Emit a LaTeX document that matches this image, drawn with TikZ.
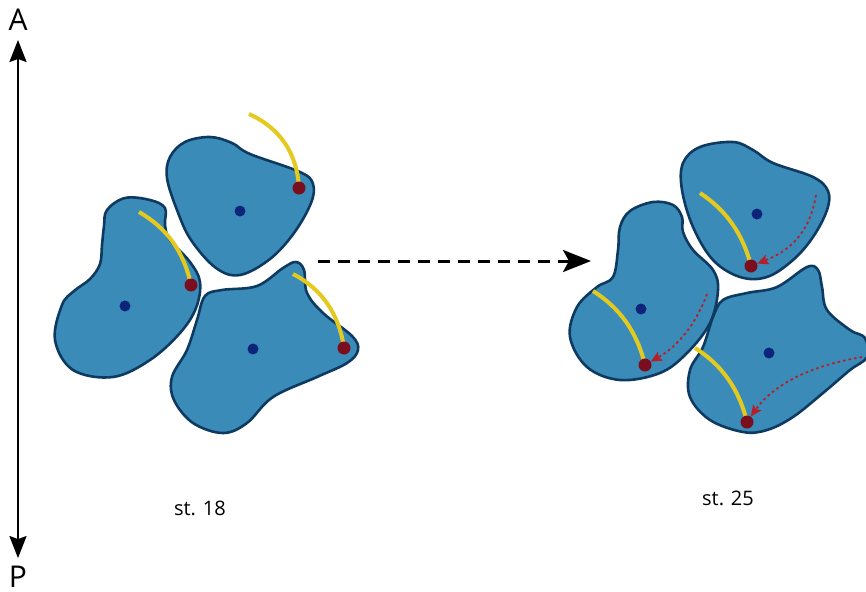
\documentclass[tikz,border=0pt]{standalone}
\usepackage{fontspec}
\setmainfont{Open Sans}
\usetikzlibrary{arrows.meta}
\definecolor{CellBlue}{RGB}{58,139,184}
\definecolor{CellEdge}{RGB}{14,58,98}
\definecolor{NucBlue}{RGB}{12,36,122}
\definecolor{BodyRed}{RGB}{122,14,30}
\definecolor{CiliaYellow}{RGB}{228,202,30}
\definecolor{PathRed}{RGB}{180,32,42}
\tikzset{
  cell/.style={draw=CellEdge,fill=CellBlue,line width=2.6pt,line join=round},
  nuc/.style={circle,fill=NucBlue,inner sep=0pt,minimum size=11pt},
  bb/.style={circle,fill=BodyRed,inner sep=0pt,minimum size=13pt},
  cilium/.style={draw=CiliaYellow,line width=4pt},
  drift/.style={draw=PathRed,line width=1.8pt,dash pattern=on 2.6pt off 3pt,
    -{Stealth[length=11pt,width=10pt,inset=2pt]}},
  axislab/.style={inner sep=0pt,font=\fontsize{30}{36}\selectfont},
  stage/.style={font=\fontsize{20}{24}\selectfont},
}

\begin{document}
\begin{tikzpicture}[x=1pt,y=-1pt]
\useasboundingbox (0,0) rectangle (866,591);
% body axis
\node[axislab] (ant) at (18,20) {A};
\node[axislab] (post) at (18,577) {P};
\draw[line width=2.4pt,{Stealth[length=22pt,width=17pt,inset=3pt]}-{Stealth[length=22pt,width=17pt,inset=3pt]},shorten <=9pt,shorten >=8pt] (ant.south) -- (post.north);

% early cells
\draw[cell] plot[smooth cycle,tension=0.6] coordinates {(170,157) (185,142) (210,137) (232,143) (250,154) (300,172) (313,184) (311,203) (294,233) (270,259) (240,275) (216,268) (191,240) (177,210) (167,178)};
\draw[cell] plot[smooth cycle,tension=0.6] coordinates {(107,210) (125,198) (150,200) (165,208) (165,225) (170,240) (190,262) (200,282) (196,308) (180,333) (150,360) (113,377) (73,370) (55,340) (62,305) (74,291) (90,279) (100,264) (102,245) (104,226)};
\draw[cell] plot[smooth cycle,tension=0.6] coordinates {(205,296) (222,290) (257,286) (283,268) (296,262) (304,270) (307,293) (323,313) (352,336) (358,350) (347,363) (317,377) (273,397) (247,423) (223,433) (193,423) (174,400) (172,377) (187,350) (197,320)};

% late cells
\draw[cell] plot[smooth cycle,tension=0.6] coordinates {(683,163) (700,147) (733,142) (753,150) (773,163) (813,177) (828,191) (827,210) (813,237) (793,260) (767,277) (740,277) (713,260) (693,227) (682,190)};
\draw[cell] plot[smooth cycle,tension=0.6] coordinates {(620,227) (630,211) (653,202) (673,205) (682,217) (683,232) (693,250) (713,270) (718,290) (710,323) (687,353) (660,373) (620,380) (587,367) (570,337) (577,307) (597,287) (613,277) (618,250)};
\draw[cell] plot[smooth cycle,tension=0.6] coordinates {(723,300) (747,293) (777,287) (807,267) (818,270) (822,287) (827,310) (850,330) (865,338) (867,357) (850,370) (823,393) (793,417) (767,430) (743,432) (710,420) (690,397) (690,370) (703,347) (713,317)};

% nuclei
\node[nuc] (nuA) at (240,211) {};
\node[nuc] (nuB) at (125,306) {};
\node[nuc] (nuC) at (253,349) {};
\node[nuc] (nuD) at (757,214) {};
\node[nuc] (nuE) at (641,309) {};
\node[nuc] (nuF) at (769,353) {};

% basal bodies and cilia tips
\coordinate (bbA) at (299,188);
\coordinate (bbB) at (191,285);
\coordinate (bbC) at (344,348);
\coordinate (bbD) at (751,266);
\coordinate (bbE) at (645,365);
\coordinate (bbF) at (747,422);
\coordinate (tipA) at (249,114);
\coordinate (tipB) at (139,212);
\coordinate (tipC) at (293,274);
\coordinate (tipD) at (700,193);
\coordinate (tipE) at (593,291);
\coordinate (tipF) at (695,348);

\draw[cilium] (tipA) .. controls (280,128) and (297,153) .. (bbA);
\draw[cilium] (tipB) .. controls (167,228) and (184,252) .. (bbB);
\draw[cilium] (tipC) .. controls (322,289) and (339,314) .. (bbC);
\draw[cilium] (tipD) .. controls (726,210) and (743,234) .. (bbD);
\draw[cilium] (tipE) .. controls (620,308) and (637,332) .. (bbE);
\draw[cilium] (tipF) .. controls (722,365) and (739,389) .. (bbF);

\node[bb] (b1) at (bbA) {};
\node[bb] (b2) at (bbB) {};
\node[bb] (b3) at (bbC) {};
\node[bb] (b4) at (bbD) {};
\node[bb] (b5) at (bbE) {};
\node[bb] (b6) at (bbF) {};

% posterior shift of the basal bodies
\coordinate (fromD) at (816,195);
\coordinate (fromE) at (707,294);
\coordinate (fromF) at (862,357);
\draw[drift] (fromD) .. controls (811,225) and (797,248) .. (b4);
\draw[drift] (fromE) .. controls (696,324) and (678,346) .. (b5);
\draw[drift] (fromF) .. controls (809,366) and (773,385) .. (b6);

% stages
\coordinate (go) at (318,261);
\coordinate (stop) at (591,261);
\draw[line width=3pt,dash pattern=on 12pt off 8pt,-{Stealth[length=28pt,width=22pt,inset=6pt]}] (go) -- (stop);
\node[stage] (s18) at (200,508) {st. 18};
\node[stage] (s25) at (728,498) {st. 25};
\end{tikzpicture}
\end{document}
